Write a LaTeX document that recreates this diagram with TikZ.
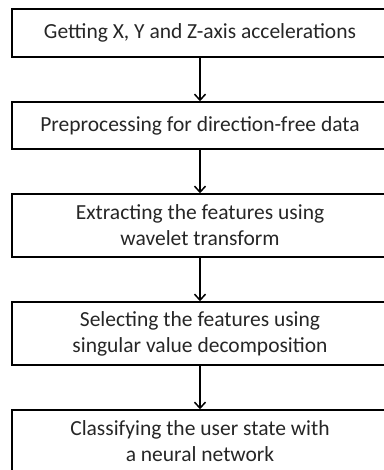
\documentclass[tikz,border=0pt]{standalone}
\usepackage{fontspec}
\setmainfont{Carlito}
\usetikzlibrary{arrows.meta}
\begin{document}
\begin{tikzpicture}[x=1pt,y=-1pt,
  stepbox/.style={draw=black,line width=1.5pt,minimum width=376pt,inner sep=0pt,
    align=center,text=black!85,font=\fontsize{21.5}{26}\selectfont},
  flow/.style={draw=black,line width=1.5pt,-{Straight Barb[length=6pt,width=11pt,line width=1.5pt]}}]
\useasboundingbox (0,0) rectangle (383,470);
\node[stepbox,minimum height=48pt] (b1) at (200,33) {Getting X, Y and Z-axis accelerations};
\node[stepbox,minimum height=47pt] (b2) at (200,125.5) {Preprocessing for direction-free data};
\node[stepbox,minimum height=63pt] (b3) at (200,225.5) {Extracting the features using\\wavelet transform};
\node[stepbox,minimum height=63pt] (b4) at (200,333.5) {Selecting the features using\\singular value decomposition};
\node[stepbox,minimum height=63pt] (b5) at (200,441.5) {Classifying the user state with\\a neural network};
\draw[flow] (b1) -- (b2);
\draw[flow] (b2) -- (b3);
\draw[flow] (b3) -- (b4);
\draw[flow] (b4) -- (b5);
\end{tikzpicture}
\end{document}
